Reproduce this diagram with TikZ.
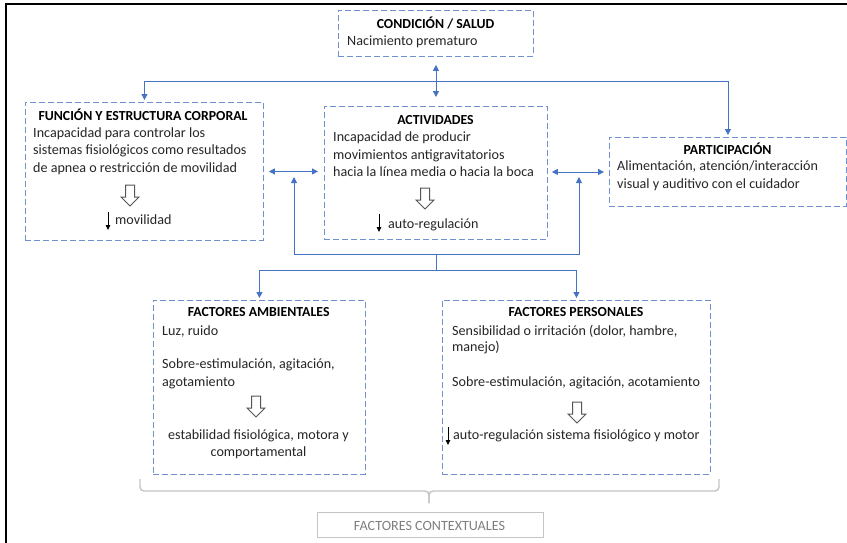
\documentclass[tikz,border=0pt]{standalone}
\usepackage{fontspec}
\setmainfont{Carlito}
\usetikzlibrary{arrows.meta}
\definecolor{linkblue}{HTML}{4472C4}
\definecolor{boxblue}{HTML}{7090D0}
\definecolor{bodytext}{HTML}{262626}
\definecolor{hollowgray}{HTML}{555555}
\definecolor{bracegray}{HTML}{C4C4C4}
\definecolor{ctxgray}{HTML}{7F7F7F}

\tikzset{
  frame/.style={draw=black, line width=2pt},
  box/.style={draw=boxblue, dash pattern=on 6pt off 3pt, line width=0.9pt,
              inner sep=0pt, anchor=north west},
  ctxbox/.style={draw=bracegray, line width=1pt, inner sep=0pt, anchor=north west},
  conn/.style={draw=linkblue, line width=0.9pt},
  head/.style={font=\fontsize{13.8}{16}\selectfont\bfseries, text=black, inner sep=0pt, anchor=base},
  txt/.style={text=bodytext, inner sep=0pt, anchor=base west},
  ctxt/.style={text=bodytext, inner sep=0pt, anchor=base},
  smalldown/.style={draw=black, line width=0.8pt, -{Triangle[width=4.5pt,length=5pt]}},
  bracket/.style={draw=bracegray, line width=1.4pt, rounded corners=4pt},
  hollowarrow/.pic={
    \draw[hollowgray, line width=1pt, fill=white]
      (-4.5,0) -- (4.5,0) -- (4.5,12) -- (9,12) -- (0,21) -- (-9,12) -- (-4.5,12) -- cycle;
  }
}

\begin{document}
\begin{tikzpicture}[x=1pt, y=-1pt, font=\fontsize{14.1}{17}\selectfont,
                    >={Triangle[width=6pt,length=6pt]}]
\useasboundingbox (0,0) rectangle (847,542);
\fill[white] (0,0) rectangle (847,542);

% outer frame (left and top edges)
\draw[frame] (6,560) -- (6,4) -- (860,4);

% boxes
\node[box, minimum width=195pt, minimum height=46pt]  (cond) at (338,10)  {};
\node[box, minimum width=238pt, minimum height=138pt] (func) at (25,102)  {};
\node[box, minimum width=223pt, minimum height=133pt] (acti) at (324,106) {};
\node[box, minimum width=237pt, minimum height=69pt]  (part) at (609,137) {};
\node[box, minimum width=212pt, minimum height=174pt] (amb)  at (153,300) {};
\node[box, minimum width=268pt, minimum height=174pt] (pers) at (442,300) {};
\node[ctxbox, minimum width=226pt, minimum height=25.5pt] (ctx) at (316.5,511.5) {};

% junction points of the connectors
\coordinate (hub)   at (435.5,81);
\coordinate (lup)   at (294,177);
\coordinate (rup)   at (579,177);
\coordinate (lbot)  at (294,254);
\coordinate (rbot)  at (579,254);
\coordinate (bus)   at (436,254);
\coordinate (split) at (436,270);

% connectors
\draw[conn, <->, shorten <=8pt, shorten >=9pt] (cond.south) -- (acti.north);
\draw[conn, ->, shorten >=2pt] (hub) -| (func.north);
\draw[conn, ->, shorten >=2pt] (hub) -| (part.north);
\draw[conn, <->, shorten <=5pt, shorten >=6pt] (func.east) -- (func.east -| acti.west);
\draw[conn, <->, shorten <=4pt, shorten >=5pt] (acti.east |- part.west) -- (part.west);
\draw[conn, <->] (lup) -- (lbot) -- (rbot) -- (rup);
\draw[conn] (bus) -- (split);
\draw[conn, ->, shorten >=2pt] (split) -| (amb.north);
\draw[conn, ->, shorten >=2pt] (split) -| (pers.north);

% bracket gathering the contextual factors
\coordinate (brl) at (140,479);
\coordinate (brr) at (719,479);
\coordinate (brtip) at (429,503);
\draw[bracket] (brl) -- (140,491) -- (429,491) -- (brtip);
\draw[bracket] (brr) -- (719,491) -- (429,491) -- (brtip);

% CONDICION / SALUD
\node[head] (condt) at (435.5,28.3) {CONDICIÓN / SALUD};
\node[txt]  (cond1) at (347,45.7) {Nacimiento prematuro};

% FUNCION Y ESTRUCTURA CORPORAL
\node[head] (funct) at (143,120) {FUNCIÓN Y ESTRUCTURA CORPORAL};
\node[txt] (func1) at (33,137.3) {Incapacidad para controlar los};
\node[txt] (func2) at (33,154.8) {sistemas fisiológicos como resultados};
\node[txt] (func3) at (33,172.3) {de apnea o restricción de movilidad};
\pic at (130,185) {hollowarrow};
\draw[smalldown] (108,212) -- (108,230);
\node[txt] (func4) at (115,224) {movilidad};

% ACTIVIDADES
\node[head] (actit) at (435.5,124) {ACTIVIDADES};
\node[txt] (acti1) at (333,141.5) {Incapacidad de producir};
\node[txt] (acti2) at (333,159) {movimientos antigravitatorios};
\node[txt] (acti3) at (333,176.5) {hacia la línea media o hacia la boca};
\pic at (425,188) {hollowarrow};
\draw[smalldown] (379,214) -- (379,232);
\node[txt] (acti4) at (388,228) {auto-regulación};

% PARTICIPACION
\node[head] (partt) at (727.5,154) {PARTICIPACIÓN};
\node[txt] (part1) at (617,170) {Alimentación, atención/interacción};
\node[txt] (part2) at (617,188) {visual y auditivo con el cuidador};

% FACTORES AMBIENTALES
\node[head] (ambt) at (258.7,316.7) {FACTORES AMBIENTALES};
\node[txt] (amb1) at (162,335) {Luz, ruido};
\node[txt] (amb2) at (162,368.3) {Sobre-estimulación, agitación,};
\node[txt] (amb3) at (162,386.7) {agotamiento};
\pic at (256,396) {hollowarrow};
\node[ctxt] (amb4) at (258.5,439) {estabilidad fisiológica, motora y};
\node[ctxt] (amb5) at (258.5,456) {comportamental};

% FACTORES PERSONALES
\node[head] (perst) at (576,316.7) {FACTORES PERSONALES};
\node[txt] (pers1) at (452,335) {Sensibilidad o irritación (dolor, hambre,};
\node[txt] (pers2) at (452,351.7) {manejo)};
\node[txt] (pers3) at (452,386.7) {Sobre-estimulación, agitación, acotamiento};
\pic at (577,402) {hollowarrow};
\draw[smalldown] (448,427) -- (448,445);
\node[txt] (pers4) at (453,439) {auto-regulación sistema fisiológico y motor};

% FACTORES CONTEXTUALES
\node[ctxt, text=ctxgray] (ctxt) at (429.5,530) {FACTORES CONTEXTUALES};
\end{tikzpicture}
\end{document}
